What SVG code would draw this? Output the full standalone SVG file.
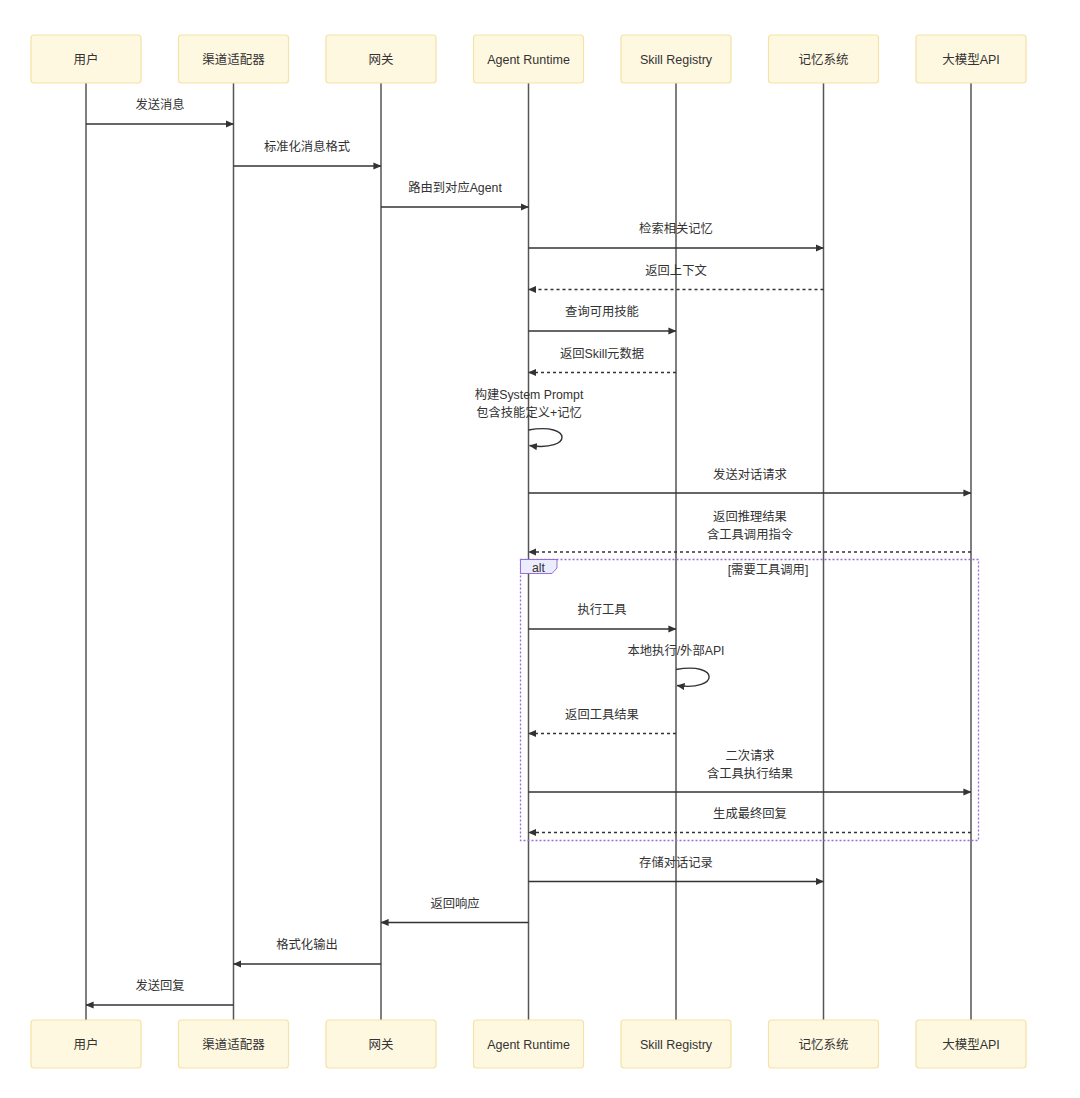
<svg xmlns="http://www.w3.org/2000/svg" width="1080" height="1098" viewBox="0 0 1080 1098">
<style>
  text { font-family: "Liberation Sans", "Noto Sans CJK SC", Arial, sans-serif; fill: #333; }
  .actor rect { fill: #FFF8E1; stroke: #F5E2A6; stroke-width: 1.2; }
  .actor text { font-size: 12.5px; text-anchor: middle; dominant-baseline: central; }
  .life { stroke: #555; stroke-width: 1.5; }
  .msg { stroke: #333; stroke-width: 1.4; fill: none; }
  .dash { stroke-dasharray: 3 3; }
  .lbl { font-size: 12.3px; text-anchor: middle; dominant-baseline: central; }
  .frame { fill: none; stroke: #9370DB; stroke-width: 1.3; stroke-dasharray: 2 2; }
  .flabel { fill: #ECECFF; stroke: #9370DB; stroke-width: 1; }
</style>
<defs>
  <marker id="ah" viewBox="0 0 10 10" refX="9.5" refY="5" markerWidth="8" markerHeight="8" markerUnits="userSpaceOnUse" orient="auto">
    <path d="M0,0.5 L10,5 L0,9.5 z" fill="#333"/>
  </marker>
</defs>
<rect width="1080" height="1098" fill="#fff"/>

<g id="lifelines">
  <line class="life" x1="86" y1="83" x2="86" y2="1020"/>
  <line class="life" x1="233.5" y1="83" x2="233.5" y2="1020"/>
  <line class="life" x1="381" y1="83" x2="381" y2="1020"/>
  <line class="life" x1="528.5" y1="83" x2="528.5" y2="1020"/>
  <line class="life" x1="676" y1="83" x2="676" y2="1020"/>
  <line class="life" x1="823.5" y1="83" x2="823.5" y2="1020"/>
  <line class="life" x1="971" y1="83" x2="971" y2="1020"/>
</g>

<g id="actor-user" class="actor">
  <rect x="31" y="35" width="110" height="48" rx="3"/><text x="86" y="60">用户</text>
  <rect x="31" y="1020" width="110" height="48" rx="3"/><text x="86" y="1045">用户</text>
</g>
<g id="actor-channel" class="actor">
  <rect x="178.5" y="35" width="110" height="48" rx="3"/><text x="233.5" y="60">渠道适配器</text>
  <rect x="178.5" y="1020" width="110" height="48" rx="3"/><text x="233.5" y="1045">渠道适配器</text>
</g>
<g id="actor-gateway" class="actor">
  <rect x="326" y="35" width="110" height="48" rx="3"/><text x="381" y="60">网关</text>
  <rect x="326" y="1020" width="110" height="48" rx="3"/><text x="381" y="1045">网关</text>
</g>
<g id="actor-runtime" class="actor">
  <rect x="473.5" y="35" width="110" height="48" rx="3"/><text x="528.5" y="60">Agent Runtime</text>
  <rect x="473.5" y="1020" width="110" height="48" rx="3"/><text x="528.5" y="1045">Agent Runtime</text>
</g>
<g id="actor-skill" class="actor">
  <rect x="621" y="35" width="110" height="48" rx="3"/><text x="676" y="60">Skill Registry</text>
  <rect x="621" y="1020" width="110" height="48" rx="3"/><text x="676" y="1045">Skill Registry</text>
</g>
<g id="actor-memory" class="actor">
  <rect x="768.5" y="35" width="110" height="48" rx="3"/><text x="823.5" y="60">记忆系统</text>
  <rect x="768.5" y="1020" width="110" height="48" rx="3"/><text x="823.5" y="1045">记忆系统</text>
</g>
<g id="actor-llm" class="actor">
  <rect x="916" y="35" width="110" height="48" rx="3"/><text x="971" y="60">大模型API</text>
  <rect x="916" y="1020" width="110" height="48" rx="3"/><text x="971" y="1045">大模型API</text>
</g>

<g id="alt-frame">
  <rect class="frame" x="520.5" y="559.5" width="458" height="281"/>
  <path class="flabel" d="M520.5,559.5 L557,559.5 L557,568 L552,573.5 L520.5,573.5 z"/>
  <text class="lbl" x="538.5" y="567.5">alt</text>
  <text class="lbl" x="768" y="569.5">[需要工具调用]</text>
</g>

<g id="connectors">
  <line class="msg" x1="86" y1="124" x2="233.5" y2="124" marker-end="url(#ah)"/>
  <line class="msg" x1="233.5" y1="166" x2="381" y2="166" marker-end="url(#ah)"/>
  <line class="msg" x1="381" y1="207" x2="528.5" y2="207" marker-end="url(#ah)"/>
  <line class="msg" x1="528.5" y1="248" x2="823.5" y2="248" marker-end="url(#ah)"/>
  <line class="msg dash" x1="823.5" y1="289.5" x2="528.5" y2="289.5" marker-end="url(#ah)"/>
  <line class="msg" x1="528.5" y1="331" x2="676" y2="331" marker-end="url(#ah)"/>
  <line class="msg dash" x1="676" y1="372.5" x2="528.5" y2="372.5" marker-end="url(#ah)"/>
  <path class="msg" d="M528.5,430 C573,422 573,452 529.5,445.5" marker-end="url(#ah)"/>
  <line class="msg" x1="528.5" y1="493" x2="971" y2="493" marker-end="url(#ah)"/>
  <line class="msg dash" x1="971" y1="552" x2="528.5" y2="552" marker-end="url(#ah)"/>
  <line class="msg" x1="528.5" y1="629" x2="676" y2="629" marker-end="url(#ah)"/>
  <path class="msg" d="M676,669.5 C720,661.5 720,691.5 677,685.5" marker-end="url(#ah)"/>
  <line class="msg dash" x1="676" y1="733.5" x2="528.5" y2="733.5" marker-end="url(#ah)"/>
  <line class="msg" x1="528.5" y1="792" x2="971" y2="792" marker-end="url(#ah)"/>
  <line class="msg dash" x1="971" y1="832.5" x2="528.5" y2="832.5" marker-end="url(#ah)"/>
  <line class="msg" x1="528.5" y1="881.5" x2="823.5" y2="881.5" marker-end="url(#ah)"/>
  <line class="msg" x1="528.5" y1="922.5" x2="381" y2="922.5" marker-end="url(#ah)"/>
  <line class="msg" x1="381" y1="964" x2="233.5" y2="964" marker-end="url(#ah)"/>
  <line class="msg" x1="233.5" y1="1005" x2="86" y2="1005" marker-end="url(#ah)"/>
</g>

<g id="labels">
  <text class="lbl" x="160" y="105">发送消息</text>
  <text class="lbl" x="307" y="147">标准化消息格式</text>
  <text class="lbl" x="455" y="188">路由到对应Agent</text>
  <text class="lbl" x="676" y="229">检索相关记忆</text>
  <text class="lbl" x="676" y="270.5">返回上下文</text>
  <text class="lbl" x="602" y="312">查询可用技能</text>
  <text class="lbl" x="602" y="353.5">返回Skill元数据</text>
  <text class="lbl" x="529" y="395">构建System Prompt</text>
  <text class="lbl" x="529" y="413">包含技能定义+记忆</text>
  <text class="lbl" x="750" y="475">发送对话请求</text>
  <text class="lbl" x="750" y="517">返回推理结果</text>
  <text class="lbl" x="750" y="534.5">含工具调用指令</text>
  <text class="lbl" x="602" y="610">执行工具</text>
  <text class="lbl" x="676" y="651">本地执行/外部API</text>
  <text class="lbl" x="602" y="715">返回工具结果</text>
  <text class="lbl" x="750" y="756">二次请求</text>
  <text class="lbl" x="750" y="773.5">含工具执行结果</text>
  <text class="lbl" x="750" y="814">生成最终回复</text>
  <text class="lbl" x="676" y="863">存储对话记录</text>
  <text class="lbl" x="455" y="904">返回响应</text>
  <text class="lbl" x="307" y="945">格式化输出</text>
  <text class="lbl" x="160" y="986">发送回复</text>
</g>
</svg>
